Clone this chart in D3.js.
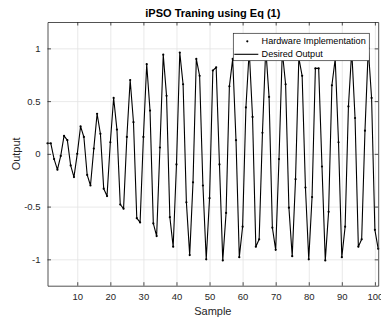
<!DOCTYPE html>
<html>
<head>
<meta charset="utf-8">
<script src="https://cdn.jsdelivr.net/npm/d3@7"></script>
<style>
  html, body { margin: 0; padding: 0; background: #fff; }
  svg { display: block; font-family: "Liberation Sans", Arial, sans-serif; }
</style>
</head>
<body>
<div id="chart"></div>
<script>
// Data

const title = "iPSO Traning using Eq (1)";
const xLabel = "Sample";
const yLabel = "Output";
const seriesNames = ["Hardware Implementation", "Desired Output"];

const xTicks = [10, 20, 30, 40, 50, 60, 70, 80, 90, 100];
const yTicks = [-1, -0.5, 0, 0.5, 1];

// desired output, sample 1 .. 101
const desiredOutput = [
  0.10, 0.10, -0.05, -0.15, -0.02, 0.17, 0.13, -0.11, -0.22, 0.00,
  0.26, 0.16, -0.20, -0.30, 0.05, 0.38, 0.19, -0.33, -0.40, 0.11,
  0.53, 0.23, -0.48, -0.52, 0.16, 0.70, 0.30, -0.61, -0.65, 0.16,
  0.85, 0.41, -0.66, -0.78, 0.06, 0.94, 0.55, -0.60, -0.88, -0.10,
  0.96, 0.66, -0.46, -0.96, -0.27, 0.90, 0.74, -0.30, -1.00, -0.42,
  0.79, 0.82, -0.10, -1.01, -0.56, 0.64, 0.90, 0.13, -0.98, -0.69,
  0.44, 0.98, 0.35, -0.88, -0.81, 0.20, 1.00, 0.54, -0.70, -0.91,
  -0.05, 0.97, 0.66, -0.51, -0.97, -0.24, 0.91, 0.74, -0.32, -1.00,
  -0.41, 0.81, 0.81, -0.12, -1.01, -0.55, 0.65, 0.90, 0.11, -0.98,
  -0.69, 0.45, 0.98, 0.34, -0.88, -0.81, 0.22, 1.00, 0.53, -0.72,
  -0.90
];

// hardware points sit right on the desired curve in the picture
const hardwareOutput = desiredOutput.slice();

// Config

const width = 381;
const height = 320;
const margin = { top: 22, right: 2.8, bottom: 34.3, left: 47.5 };
const axisColor = "#262626";
const gridColor = "#e3e3e3";
const tickLen = 3.5;

const svg = d3.select("#chart")
  .append("svg")
  .attr("width", width)
  .attr("height", height);

// Scales

const xScale = d3.scaleLinear()
  .domain([1, 101])
  .range([margin.left, width - margin.right]);

const yScale = d3.scaleLinear()
  .domain([-1.25, 1.25])
  .range([height - margin.bottom, margin.top]);

const fmt = d => String(d);
const plotW = width - margin.left - margin.right;
const plotH = height - margin.top - margin.bottom;

// Grid

svg.append("g")
  .attr("transform", "translate(0," + (height - margin.bottom) + ")")
  .call(d3.axisBottom(xScale).tickValues(xTicks).tickSize(-plotH).tickFormat(""))
  .call(g => g.select(".domain").remove())
  .call(g => g.selectAll(".tick line").attr("stroke", gridColor).attr("stroke-width", 0.8));

svg.append("g")
  .attr("transform", "translate(" + margin.left + ",0)")
  .call(d3.axisLeft(yScale).tickValues(yTicks).tickSize(-plotW).tickFormat(""))
  .call(g => g.select(".domain").remove())
  .call(g => g.selectAll(".tick line").attr("stroke", gridColor).attr("stroke-width", 0.8));

// Data

const line = d3.line()
  .x((d, i) => xScale(i + 1))
  .y(d => yScale(d));

svg.append("path")
  .datum(desiredOutput)
  .attr("fill", "none")
  .attr("stroke", "#000")
  .attr("stroke-width", 1.1)
  .attr("stroke-linejoin", "round")
  .attr("d", line);

svg.selectAll("circle.dot")
  .data(hardwareOutput)
  .join("circle")
  .attr("class", "dot")
  .attr("cx", (d, i) => xScale(i + 1))
  .attr("cy", d => yScale(d))
  .attr("r", 1.1)
  .attr("fill", "#000");

// Axes (box with inward ticks on all sides)

function styleAxis(g) {
  g.select(".domain").attr("stroke", axisColor).attr("stroke-width", 0.8);
  g.selectAll(".tick line").attr("stroke", axisColor).attr("stroke-width", 0.8);
  g.selectAll(".tick text")
    .attr("fill", axisColor)
    .attr("font-size", "9.5px")
    .attr("font-family", "Liberation Sans, Arial, sans-serif");
}

svg.append("g")
  .attr("transform", "translate(0," + (height - margin.bottom) + ")")
  .call(d3.axisBottom(xScale).tickValues(xTicks).tickSizeInner(-tickLen).tickSizeOuter(0).tickPadding(8).tickFormat(fmt))
  .call(styleAxis);

svg.append("g")
  .attr("transform", "translate(0," + margin.top + ")")
  .call(d3.axisTop(xScale).tickValues(xTicks).tickSizeInner(-tickLen).tickSizeOuter(0).tickFormat(""))
  .call(styleAxis);

svg.append("g")
  .attr("transform", "translate(" + margin.left + ",0)")
  .call(d3.axisLeft(yScale).tickValues(yTicks).tickSizeInner(-tickLen).tickSizeOuter(0).tickPadding(7).tickFormat(fmt))
  .call(styleAxis);

svg.append("g")
  .attr("transform", "translate(" + (width - margin.right) + ",0)")
  .call(d3.axisRight(yScale).tickValues(yTicks).tickSizeInner(-tickLen).tickSizeOuter(0).tickFormat(""))
  .call(styleAxis);

// Title and axis labels

svg.append("text")
  .attr("x", margin.left + plotW / 2)
  .attr("y", 16.5)
  .attr("text-anchor", "middle")
  .attr("font-size", "11px")
  .attr("font-weight", "bold")
  .attr("fill", "#000")
  .text(title);

svg.append("text")
  .attr("x", margin.left + plotW / 2)
  .attr("y", 315)
  .attr("text-anchor", "middle")
  .attr("font-size", "11px")
  .attr("fill", axisColor)
  .text(xLabel);

svg.append("text")
  .attr("transform", "translate(20," + (margin.top + plotH / 2) + ") rotate(-90)")
  .attr("text-anchor", "middle")
  .attr("font-size", "11px")
  .attr("fill", axisColor)
  .text(yLabel);

// Legend

const legend = svg.append("g").attr("transform", "translate(233.3,33.3)");

legend.append("rect")
  .attr("width", 136)
  .attr("height", 27.4)
  .attr("fill", "#fff")
  .attr("stroke", axisColor)
  .attr("stroke-width", 0.7);

legend.append("circle")
  .attr("cx", 14)
  .attr("cy", 8)
  .attr("r", 1.1)
  .attr("fill", "#000");

legend.append("line")
  .attr("x1", 1)
  .attr("x2", 25)
  .attr("y1", 21)
  .attr("y2", 21)
  .attr("stroke", "#000")
  .attr("stroke-width", 1.1);

legend.selectAll("text.legend-label")
  .data(seriesNames)
  .join("text")
  .attr("class", "legend-label")
  .attr("x", 28.3)
  .attr("y", (d, i) => 11.2 + i * 12.8)
  .attr("font-size", "9.1px")
  .attr("fill", "#000")
  .text(d => d);
</script>
</body>
</html>
